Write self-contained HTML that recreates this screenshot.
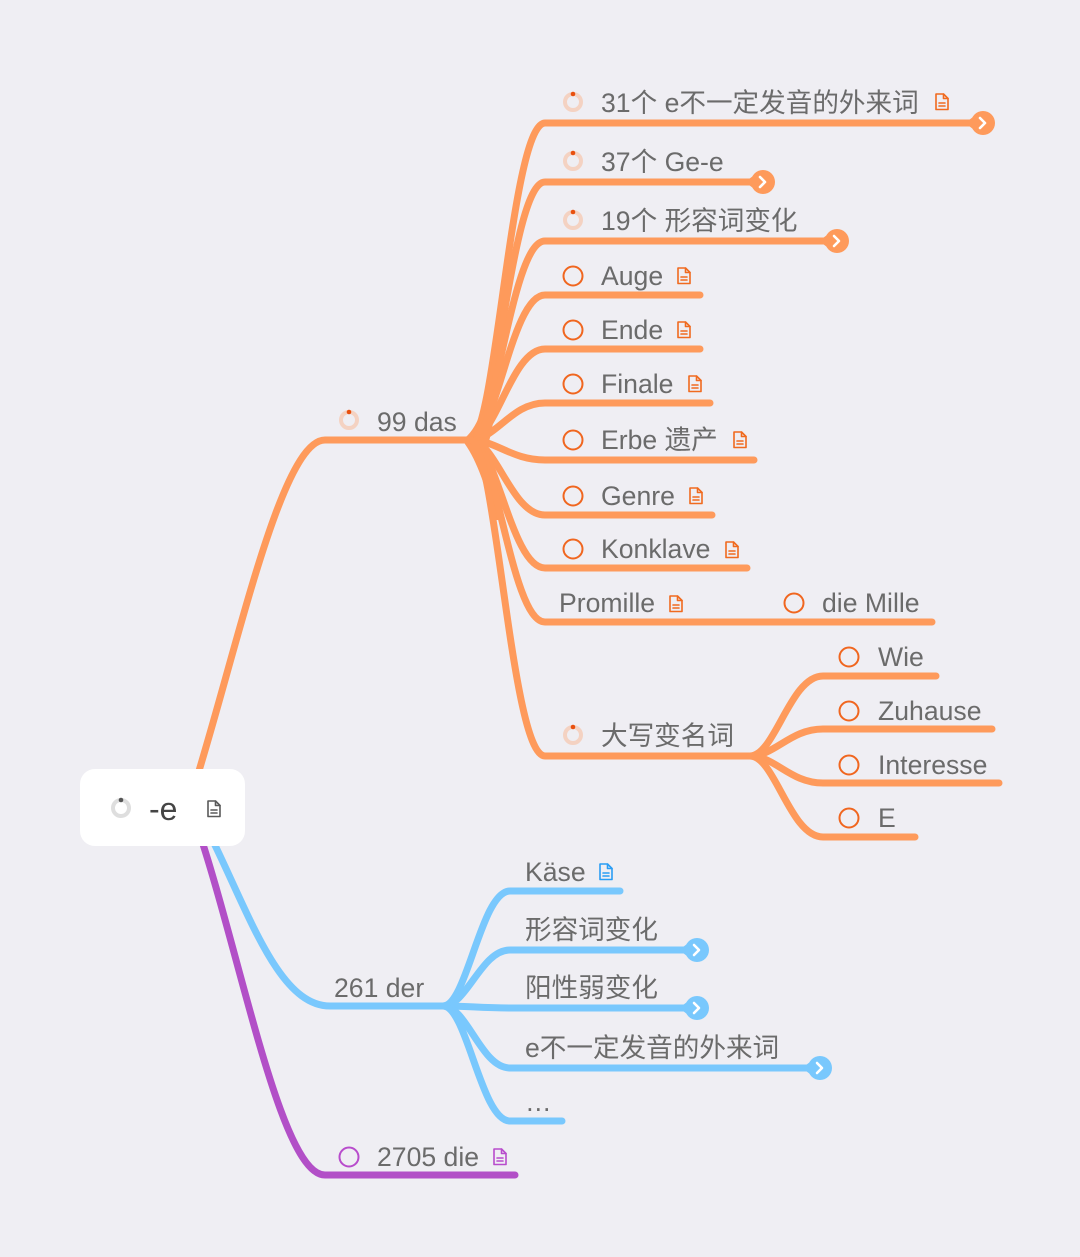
<!DOCTYPE html>
<html><head><meta charset="utf-8"><style>
html,body{margin:0;padding:0;background:#efeef3;}
svg{display:block;}
text{font-family:"Liberation Sans","Noto Sans CJK SC",sans-serif;font-size:26.6px;fill:#6b6b6b;}
</style></head><body>
<svg width="1080" height="1257" viewBox="0 0 1080 1257" xmlns="http://www.w3.org/2000/svg">
<rect x="0" y="0" width="1080" height="1257" fill="#efeef3"/>
<defs>
<g id="doc" fill="none" stroke-width="1.6" stroke-linejoin="round" stroke-linecap="round">
<path d="M1,1 H8.5 L13,5.5 V16.5 H1 Z"/>
<path d="M8.5,1 V5.5 H13"/>
<path d="M4,10 H10 M4,13 H10"/>
</g>
</defs>

<!-- root edges -->
<g fill="none" stroke-width="7" stroke-linecap="round">
<path d="M190 800 C235 660, 280 440, 325 440 L470 440" stroke="#fe9a5b"/>
<path d="M200 815 C245 900, 275 1006, 330 1006 L443 1006" stroke="#79c8fd"/>
<path d="M195 820 C240 950, 280 1175, 325 1175 L515 1175" stroke="#b24fc7"/>
</g>

<!-- orange hub taper -->
<path d="M462 440 C478 430, 486 400, 490 380 L500 380 C496 410, 490 440, 488 445 C492 470, 500 500, 504 520 L494 520 C488 495, 478 460, 462 440 Z" fill="#fe9a5b"/>

<!-- orange children -->
<g fill="none" stroke="#fe9a5b" stroke-width="7" stroke-linecap="round">
<path d="M470 440 C496 440, 511 123, 545 123 L975 123"/>
<path d="M470 440 C496 440, 511 182, 545 182 L755 182"/>
<path d="M470 440 C496 440, 511 241, 545 241 L829 241"/>
<path d="M470 440 C496 440, 511 295, 545 295 L700 295"/>
<path d="M470 440 C496 440, 511 349, 545 349 L700 349"/>
<path d="M470 440 C496 440, 511 403, 545 403 L710 403"/>
<path d="M470 440 C496 440, 511 460, 545 460 L754 460"/>
<path d="M470 440 C496 440, 511 515, 545 515 L712 515"/>
<path d="M470 440 C496 440, 511 568, 545 568 L747 568"/>
<path d="M470 440 C496 440, 511 622, 545 622 L932 622"/>
<path d="M470 440 C496 440, 511 756, 545 756 L750 756"/>
<path d="M750 756 C775 756, 790 676, 823 676 L936 676"/>
<path d="M750 756 C775 756, 790 729, 823 729 L992 729"/>
<path d="M750 756 C775 756, 790 783, 823 783 L999 783"/>
<path d="M750 756 C775 756, 790 837, 823 837 L915 837"/>
</g>

<!-- blue children -->
<g fill="none" stroke="#79c8fd" stroke-width="7" stroke-linecap="round">
<path d="M443 1006 C467 1006, 481 891, 510 891 L620 891"/>
<path d="M443 1006 C467 1006, 481 950, 510 950 L690 950"/>
<path d="M443 1006 C467 1006, 481 1008, 510 1008 L690 1008"/>
<path d="M443 1006 C467 1006, 481 1068, 510 1068 L812 1068"/>
<path d="M443 1006 C467 1006, 481 1121, 510 1121 L562 1121"/>
</g>

<!-- end markers -->
<g>
<g fill="#fe9a5b">
<polygon points="965,123 977,114 977,132"/><circle cx="983" cy="123" r="12"/>
<polygon points="745,182 757,173 757,191"/><circle cx="763" cy="182" r="12"/>
<polygon points="819,241 831,232 831,250"/><circle cx="837" cy="241" r="12"/>
</g>
<g fill="#79c8fd">
<polygon points="679,950 691,941 691,959"/><circle cx="697" cy="950" r="12"/>
<polygon points="679,1008 691,999 691,1017"/><circle cx="697" cy="1008" r="12"/>
<polygon points="802,1068 814,1059 814,1077"/><circle cx="820" cy="1068" r="12"/>
</g>
<g fill="none" stroke="#fff" stroke-width="2.6" stroke-linecap="round" stroke-linejoin="round">
<polyline points="980,118 985,123 980,128"/>
<polyline points="760,177 765,182 760,187"/>
<polyline points="834,236 839,241 834,246"/>
<polyline points="694,945 699,950 694,955"/>
<polyline points="694,1003 699,1008 694,1013"/>
<polyline points="817,1063 822,1068 817,1073"/>
</g>
</g>

<!-- root node -->
<rect x="80" y="769" width="165" height="77" rx="15" fill="#ffffff"/>
<circle cx="121" cy="808" r="8" fill="none" stroke="#dedede" stroke-width="4"/>
<circle cx="121" cy="800" r="2.3" fill="#555"/>
<text x="149" y="820" style="font-size:32px;fill:#454545">-e</text>
<use href="#doc" x="207" y="800" stroke="#5a5a5a"/>

<!-- progress icons (orange) -->
<g>
<g fill="none" stroke="#f4d2c2" stroke-width="4">
<circle cx="573" cy="102" r="8"/>
<circle cx="573" cy="161" r="8"/>
<circle cx="573" cy="220" r="8"/>
<circle cx="349" cy="420" r="8"/>
<circle cx="573" cy="735" r="8"/>
</g>
<g fill="#e8500f">
<circle cx="573" cy="94" r="2.3"/>
<circle cx="573" cy="153" r="2.3"/>
<circle cx="573" cy="212" r="2.3"/>
<circle cx="349" cy="412" r="2.3"/>
<circle cx="573" cy="727" r="2.3"/>
</g>
</g>

<!-- hollow circles -->
<g fill="none" stroke="#f0661f" stroke-width="2">
<circle cx="573" cy="276" r="9.5"/>
<circle cx="573" cy="330" r="9.5"/>
<circle cx="573" cy="384" r="9.5"/>
<circle cx="573" cy="440" r="9.5"/>
<circle cx="573" cy="496" r="9.5"/>
<circle cx="573" cy="549" r="9.5"/>
<circle cx="794" cy="603" r="9.5"/>
<circle cx="849" cy="657" r="9.5"/>
<circle cx="849" cy="711" r="9.5"/>
<circle cx="849" cy="765" r="9.5"/>
<circle cx="849" cy="818" r="9.5"/>
</g>
<circle cx="349" cy="1157" r="9.5" fill="none" stroke="#b84ccc" stroke-width="2"/>

<!-- doc icons -->
<g stroke="#f06a1f">
<use href="#doc" x="935" y="93"/>
<use href="#doc" x="677" y="267"/>
<use href="#doc" x="677" y="321"/>
<use href="#doc" x="688" y="375"/>
<use href="#doc" x="733" y="431"/>
<use href="#doc" x="689" y="487"/>
<use href="#doc" x="725" y="541"/>
<use href="#doc" x="669" y="595"/>
</g>
<use href="#doc" x="599" y="863" stroke="#2a9df4"/>
<use href="#doc" x="493" y="1148" stroke="#b84ccc"/>

<!-- labels -->
<text x="601" y="112">31个 e不一定发音的外来词</text>
<text x="601" y="171">37个 Ge-e</text>
<text x="601" y="230">19个 形容词变化</text>
<text x="601" y="285">Auge</text>
<text x="601" y="339">Ende</text>
<text x="601" y="393">Finale</text>
<text x="601" y="449">Erbe 遗产</text>
<text x="601" y="505">Genre</text>
<text x="601" y="558">Konklave</text>
<text x="559" y="612">Promille</text>
<text x="822" y="612">die Mille</text>
<text x="601" y="745">大写变名词</text>
<text x="878" y="666">Wie</text>
<text x="878" y="720">Zuhause</text>
<text x="878" y="774">Interesse</text>
<text x="878" y="827">E</text>
<text x="377" y="431">99 das</text>
<text x="334" y="997">261 der</text>
<text x="525" y="881">Käse</text>
<text x="525" y="939">形容词变化</text>
<text x="525" y="997">阳性弱变化</text>
<text x="525" y="1057">e不一定发音的外来词</text>
<text x="525" y="1111">…</text>
<text x="377" y="1166">2705 die</text>
</svg>
</body></html>
